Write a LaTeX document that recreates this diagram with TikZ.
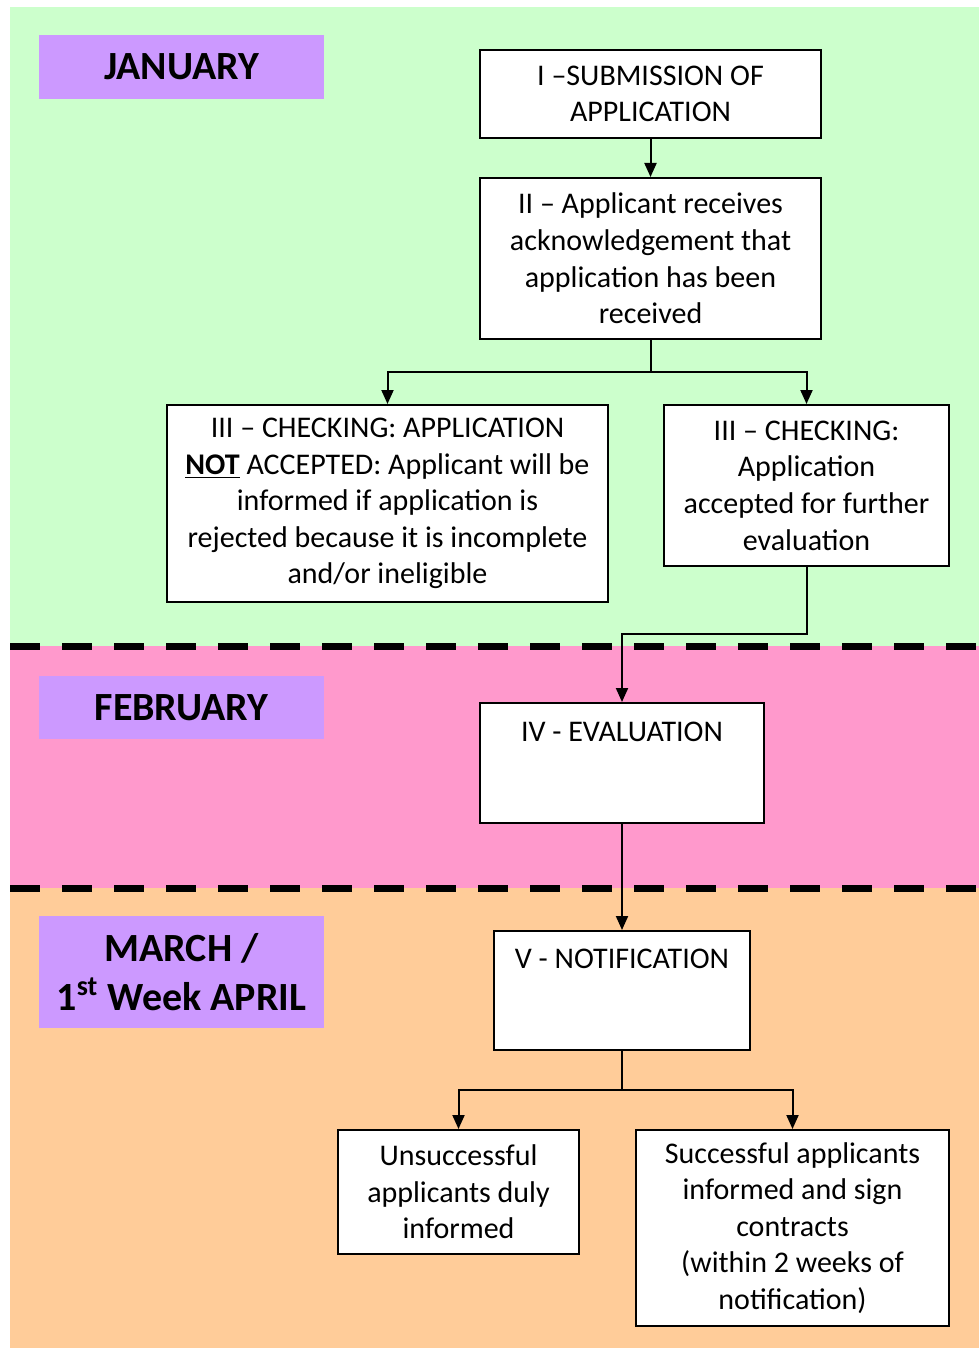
\documentclass[tikz,border=0pt]{standalone}
\usepackage{fontspec}
\setmainfont{Carlito}
\usepackage{tikz}
\usetikzlibrary{arrows.meta,positioning}
\definecolor{janfill}{RGB}{204,255,204}
\definecolor{febfill}{RGB}{255,153,204}
\definecolor{marfill}{RGB}{255,204,153}
\definecolor{monthfill}{RGB}{204,153,255}

\begin{document}
\begin{tikzpicture}[
  x=0.5pt, y=-0.5pt,
  stepbox/.style={draw=black, line width=1pt, fill=white, align=center,
                  font=\fontsize{15}{18.3}\selectfont, inner sep=2pt},
  month/.style={fill=monthfill, align=center, inner sep=0pt,
                font=\fontsize{20}{24.5}\selectfont\bfseries,
                minimum width=142.5pt},
  arr/.style={-{Triangle[length=7pt,width=6pt]}, line width=1pt},
  sep/.style={line width=3.5pt, dash pattern=on 15pt off 11pt}]
\useasboundingbox (0,0) rectangle (979,1348);
% month bands
\fill[janfill] (10,7) rectangle (979,646);
\fill[febfill] (10,646) rectangle (979,888);
\fill[marfill] (10,888) rectangle (979,1348);
\draw[sep] (10,646) -- (979,646);
\draw[sep] (10,888) -- (979,888);
% month labels
\node[month, minimum height=32pt] (jan) at (181.5,67) {JANUARY};
\node[month, minimum height=31.5pt] (feb) at (181.5,707.5) {FEBRUARY};
\node[month, minimum height=56pt] (mar) at (181.5,972) {MARCH /\\1\textsuperscript{st} Week APRIL};
% steps
\node[stepbox, minimum width=170.5pt, minimum height=44pt] (sub) at (650.5,94)
  {I --SUBMISSION OF\\APPLICATION};
\node[stepbox, minimum width=170.5pt, minimum height=80.5pt] (ack) at (650.5,258.5)
  {II -- Applicant receives\\acknowledgement that\\application has been\\received};
\node[stepbox, minimum width=220.5pt, minimum height=98.5pt] (notacc) at (387.5,503.5)
  {III -- CHECKING: APPLICATION\\\underline{\textbf{NOT}} ACCEPTED: Applicant will be\\informed if application is\\rejected because it is incomplete\\and/or ineligible};
\node[stepbox, minimum width=142.5pt, minimum height=80.5pt] (accepted) at (806.5,485.5)
  {III -- CHECKING:\\Application\\accepted for further\\evaluation};
\node[stepbox, minimum width=142pt, inner ysep=0pt, text height=19.25pt, text depth=40.75pt] (eval) at (622,763)
  {IV - EVALUATION};
\node[stepbox, minimum width=128pt, inner ysep=0pt, text height=18.75pt, text depth=40.75pt] (notif) at (622,990.5)
  {V - NOTIFICATION};
\node[stepbox, minimum width=120.5pt, minimum height=62pt] (unsucc) at (458.5,1192)
  {Unsuccessful\\applicants duly\\informed};
\node[stepbox, minimum width=156.5pt, minimum height=98pt] (succ) at (792.5,1228)
  {Successful applicants\\informed and sign\\contracts\\(within 2 weeks of\\notification)};
% connectors
\coordinate (split1) at (650.5,372);
\coordinate (bend) at (806.5,634);
\coordinate (split2) at (622,1090);
\draw[arr] (sub) -- (ack);
\draw[arr] (ack) -- (split1) -| (notacc);
\draw[arr] (split1) -| (accepted);
\draw[arr] (accepted) -- (bend) -| (eval);
\draw[arr] (eval) -- (notif);
\draw[arr] (notif) -- (split2) -| (unsucc);
\draw[arr] (split2) -| (succ);
\end{tikzpicture}
\end{document}
